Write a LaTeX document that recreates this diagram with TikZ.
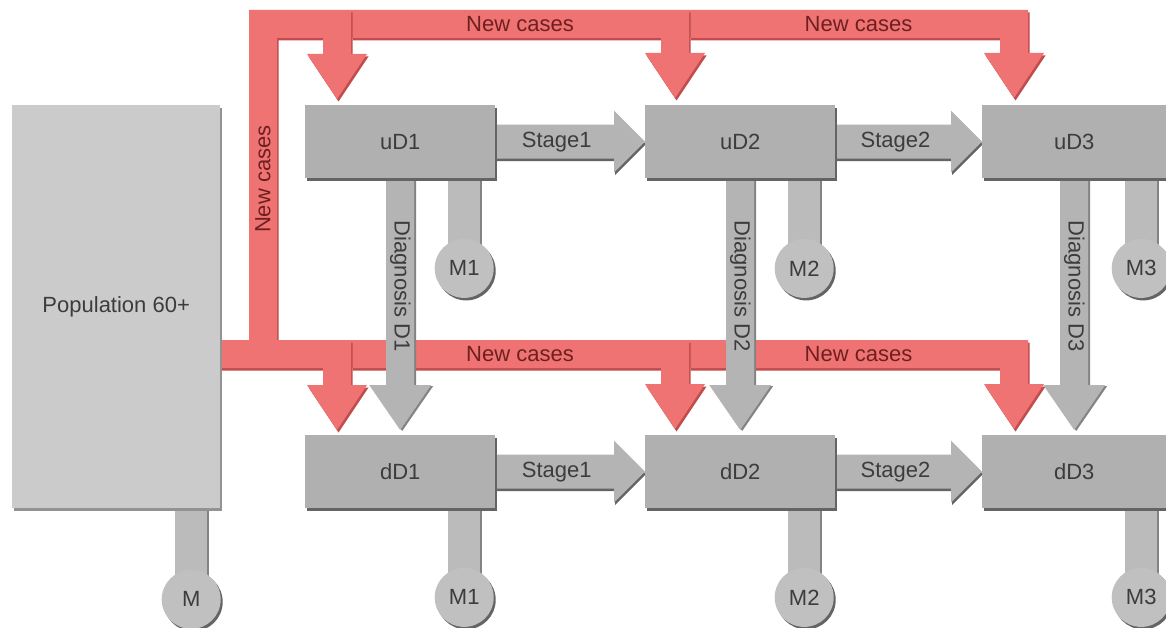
\documentclass[tikz,border=0pt]{standalone}
\usepackage{fontspec}
\setmainfont{Liberation Sans}
\usetikzlibrary{calc,shadows}
\pgfdeclarelayer{bgl}
\pgfdeclarelayer{redl}
\pgfdeclarelayer{grayl}
\pgfsetlayers{bgl,redl,grayl,main}
\definecolor{boxgray}{HTML}{B0B0B0}
\definecolor{popgray}{HTML}{CBCBCB}
\definecolor{arrgray}{HTML}{B4B4B4}
\definecolor{stemgray}{HTML}{BBBBBB}
\definecolor{circgray}{HTML}{C0C0C0}
\definecolor{shadegray}{HTML}{646464}
\definecolor{txtgray}{HTML}{3C3C3C}
\definecolor{redfill}{HTML}{EF7373}
\definecolor{redshade}{HTML}{C24B4B}
\definecolor{redtxt}{HTML}{6E2020}

\newcommand\stagearrow[4]{%
  \begin{pgfonlayer}{grayl}
    \path[hgray] let \p1=(#1.east), \p2=(#2.west) in
      (\x1,\y1+17pt) -- (\x2-31pt,\y1+17pt) -- (\x2-31pt,\y1+31pt) -- (\x2,\y1)
      -- (\x2-31pt,\y1-31pt) -- (\x2-31pt,\y1-17pt) -- (\x1,\y1-17pt) -- cycle;
  \end{pgfonlayer}
  \node[lbl] (#3) at ($(#1.east)!0.41!(#2.west)$) {#4};}

\newcommand\diagarrow[4]{%
  \begin{pgfonlayer}{grayl}
    \path[vgray] let \p1=(#1.south), \p2=(#2.north) in
      (\x1-14pt,\y1) -- (\x1-14pt,\y2+50pt) -- (\x1-31pt,\y2+50pt) -- (\x1,\y2+5pt)
      -- (\x1+31pt,\y2+50pt) -- (\x1+14pt,\y2+50pt) -- (\x1+14pt,\y1) -- cycle;
  \end{pgfonlayer}
  \node[lbl,rotate=-90] (#3) at ($(#1.south)!0.42!(#2.north)$) {#4};}

\newcommand\mort[4]{%
  \node[mcirc] (#2) at ($(#1.south)+#3$) {#4};
  \begin{pgfonlayer}{grayl}
    \path[stem] let \p1=(#1.south), \p2=(#2.center) in
      (\x2-16pt,\y1) rectangle (\x2+16pt,\y2);
  \end{pgfonlayer}}

\newcommand\casesarrow[2]{%
  \begin{pgfonlayer}{redl}
    \path[redarrow] let \p1=(#1), \p2=(#2) in
      (\x1,\y1+14pt) -- (\x2+14pt,\y1+14pt) -- (\x2+14pt,\y2+45pt) -- (\x2+30pt,\y2+45pt)
      -- (\x2,\y2) -- (\x2-30pt,\y2+45pt) -- (\x2-14pt,\y2+45pt) -- (\x2-14pt,\y1-14pt)
      -- (\x1,\y1-14pt) -- cycle;
  \end{pgfonlayer}}

\begin{document}
\begin{tikzpicture}[x=1pt,y=-1pt,
  font=\fontsize{22}{26}\selectfont,
  every node/.style={inner sep=0pt},
  lbl/.style={text=txtgray},
  redlbl/.style={text=redtxt},
  compbox/.style={rectangle, fill=boxgray, text=txtgray, minimum width=190pt,
    minimum height=73pt, anchor=north west,
    drop shadow={shadow xshift=2pt, shadow yshift=-3pt, opacity=1, fill=shadegray}},
  popbox/.style={rectangle, fill=popgray, text=txtgray, minimum width=208pt,
    minimum height=403pt, anchor=north west,
    drop shadow={shadow xshift=2pt, shadow yshift=-3pt, opacity=1, fill=shadegray!70}},
  mcirc/.style={circle, fill=circgray, text=txtgray, minimum size=59pt,
    drop shadow={shadow xshift=2pt, shadow yshift=-2.5pt, opacity=1, fill=shadegray}},
  stem/.style={fill=stemgray,
    drop shadow={shadow xshift=2pt, shadow yshift=0pt, opacity=1, fill=shadegray!80}},
  hgray/.style={fill=arrgray,
    drop shadow={shadow xshift=1pt, shadow yshift=-2.5pt, opacity=1, fill=shadegray}},
  vgray/.style={fill=arrgray,
    drop shadow={shadow xshift=2pt, shadow yshift=-1pt, opacity=1, fill=shadegray!80}},
  redarrow/.style={fill=redfill,
    drop shadow={shadow xshift=1.5pt, shadow yshift=-2.5pt, opacity=1, fill=redshade}},
]
\useasboundingbox (0,0) rectangle (1166,628);
\begin{pgfonlayer}{bgl}
  \fill[white] (0,0) rectangle (1166,628);
\end{pgfonlayer}

% compartments
\node[popbox] (pop) at (12,105) {Population 60+};
\node[compbox] (uD1) at (305,105) {uD1};
\node[compbox] (uD2) at (645,105) {uD2};
\node[compbox, minimum width=184pt] (uD3) at (982,105) {uD3};
\node[compbox] (dD1) at (305,435) {dD1};
\node[compbox] (dD2) at (645,435) {dD2};
\node[compbox, minimum width=184pt] (dD3) at (982,435) {dD3};

% levels of the new-case bands and arrow tips
\coordinate (top) at (0,24);
\coordinate (bot) at (0,354);
\coordinate (vx) at (263,0);
\coordinate (t1) at ($(uD1.north west)+(32,-6)$);
\coordinate (t2) at ($(uD2.north west)+(30,-7)$);
\coordinate (t3) at ($(uD3.north west)+(32,-7)$);
\coordinate (b1) at ($(dD1.north west)+(32,-5)$);
\coordinate (b2) at ($(dD2.north west)+(30,-6)$);
\coordinate (b3) at ($(dD3.north west)+(32,-6)$);

% new cases (red)
\casesarrow{$(t2 |- top)+(14,0)$}{t3}
\casesarrow{$(t1 |- top)+(14,0)$}{t2}
\begin{pgfonlayer}{redl}
  \path[redarrow] let \p1=(vx |- bot), \p2=(t1), \p3=(top) in
    (\x1-14pt,\y1) -- (\x1-14pt,\y3+14pt) -- (\x2+14pt,\y3+14pt) -- (\x2+14pt,\y2+45pt)
    -- (\x2+30pt,\y2+45pt) -- (\x2,\y2) -- (\x2-30pt,\y2+45pt) -- (\x2-14pt,\y2+45pt)
    -- (\x2-14pt,\y3-14pt) -- (\x1+14pt,\y3-14pt) -- (\x1+14pt,\y1) -- cycle;
\end{pgfonlayer}
\casesarrow{$(b2 |- bot)+(14,0)$}{b3}
\casesarrow{$(b1 |- bot)+(14,0)$}{b2}
\casesarrow{pop.east |- bot}{b1}

\node[redlbl] (nct1) at ($(t1 |- top)!0.5!(t2 |- top)+(14,0)$) {New cases};
\node[redlbl] (nct2) at ($(t2 |- top)!0.5!(t3 |- top)+(14,0)$) {New cases};
\node[redlbl] (ncb1) at ($(b1 |- bot)!0.5!(b2 |- bot)+(14,0)$) {New cases};
\node[redlbl] (ncb2) at ($(b2 |- bot)!0.5!(b3 |- bot)+(14,0)$) {New cases};
\node[redlbl, rotate=90] (ncv) at ($(vx |- top)!0.47!(vx |- bot)$) {New cases};

% progression
\stagearrow{uD1}{uD2}{s1u}{Stage1}
\stagearrow{uD2}{uD3}{s2u}{Stage2}
\stagearrow{dD1}{dD2}{s1d}{Stage1}
\stagearrow{dD2}{dD3}{s2d}{Stage2}

% diagnosis
\diagarrow{uD1}{dD1}{g1}{Diagnosis D1}
\diagarrow{uD2}{dD2}{g2}{Diagnosis D2}
\diagarrow{uD3}{dD3}{g3}{Diagnosis D3}

% mortality
\mort{pop}{m0}{(75,91)}{M}
\mort{uD1}{m1u}{(64,90)}{M1}
\mort{uD2}{m2u}{(64,90)}{M2}
\mort{uD3}{m3u}{(67,90)}{M3}
\mort{dD1}{m1d}{(64,89)}{M1}
\mort{dD2}{m2d}{(64,89)}{M2}
\mort{dD3}{m3d}{(67,89)}{M3}
\end{tikzpicture}
\end{document}
